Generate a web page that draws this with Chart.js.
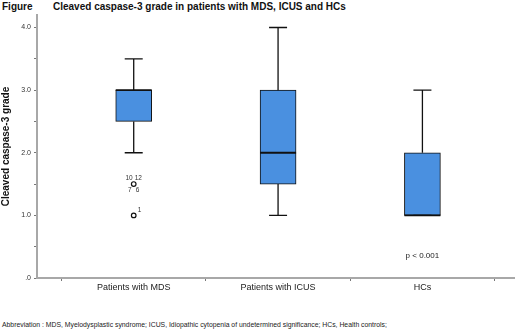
<!DOCTYPE html>
<html>
<head>
<meta charset="utf-8">
<title>Cleaved caspase-3 grade</title>
<script src="https://cdn.jsdelivr.net/npm/chart.js@4.4.1/dist/chart.umd.min.js"></script>
<style>
  body { margin:0; background:#fff; font-family:"Liberation Sans", Arial, sans-serif; }
  #wrap { position:relative; width:520px; height:335px; }
  #chartBox { position:absolute; left:0; top:0; width:520px; height:300px; }
  .ttl { position:absolute; top:1px; font-weight:bold; font-size:10px; color:#111; white-space:nowrap; }
  #foot { position:absolute; left:2px; top:321px; font-size:6.85px; color:#222; white-space:nowrap; }
</style>
</head>
<body>
<div id="wrap">
  <div class="ttl" style="left:2px">Figure</div>
  <div class="ttl" style="left:53px">Cleaved caspase-3 grade in patients with MDS, ICUS and HCs</div>
  <div id="chartBox"><canvas id="c"></canvas></div>
  <div id="foot">Abbreviation : MDS, Myelodysplastic syndrome; ICUS, Idiopathic cytopenia of undetermined significance; HCs, Health controls;</div>
</div>
<script>
// box plot values
var groups = ['Patients with MDS', 'Patients with ICUS', 'HCs'];
var whiskerLow = [2.0, 1.0, 1.0];
var q1 = [2.5, 1.5, 1.0];
var median = [3.0, 2.0, 1.0];
var q3 = [3.0, 3.0, 2.0];
var whiskerHigh = [3.5, 4.0, 3.0];
var outlierGroup = [0, 0];
var outlierValue = [1.5, 1.0];
var outlierIds = [['10', '12', '7', '6'], ['1']];
var yTicks = [0, 0.5, 1, 1.5, 2, 2.5, 3, 3.5, 4];
var xTicks = [-0.5, 0, 0.5, 1, 1.5, 2, 2.5];
var pText = 'p < 0.001';

var boxData = groups.map(function (g, i) { return { x: i, y: [q1[i], q3[i]] }; });
var outData = outlierValue.map(function (v, i) { return { x: outlierGroup[i], y: v }; });

// whiskers, medians, case labels, p value
var boxExtras = {
  id: 'boxExtras',
  afterDatasetsDraw: function (chart) {
    var ctx = chart.ctx, xs = chart.scales.x, ys = chart.scales.y;
    var bars = chart.getDatasetMeta(0).data;
    ctx.save();
    ctx.strokeStyle = '#111';
    groups.forEach(function (g, i) {
      var cx = xs.getPixelForValue(i);
      var w = bars[i].width;
      var cap = w * 0.25;
      ctx.lineWidth = 1.3;
      ctx.beginPath();
      ctx.moveTo(cx, ys.getPixelForValue(q3[i])); ctx.lineTo(cx, ys.getPixelForValue(whiskerHigh[i]));
      ctx.moveTo(cx - cap, ys.getPixelForValue(whiskerHigh[i])); ctx.lineTo(cx + cap, ys.getPixelForValue(whiskerHigh[i]));
      ctx.moveTo(cx, ys.getPixelForValue(q1[i])); ctx.lineTo(cx, ys.getPixelForValue(whiskerLow[i]));
      ctx.moveTo(cx - cap, ys.getPixelForValue(whiskerLow[i])); ctx.lineTo(cx + cap, ys.getPixelForValue(whiskerLow[i]));
      ctx.stroke();
      ctx.lineWidth = 1.8;
      ctx.beginPath();
      ctx.moveTo(cx - w / 2, ys.getPixelForValue(median[i])); ctx.lineTo(cx + w / 2, ys.getPixelForValue(median[i]));
      ctx.stroke();
    });
    ctx.fillStyle = '#333';
    ctx.font = '6.5px "Liberation Sans", Arial, sans-serif';
    ctx.textBaseline = 'middle';
    outlierValue.forEach(function (v, i) {
      var px = xs.getPixelForValue(outlierGroup[i]), py = ys.getPixelForValue(v);
      var ids = outlierIds[i];
      if (ids.length === 1) {
        ctx.textAlign = 'left';
        ctx.fillText(ids[0], px + 4, py - 5);
      } else {
        ctx.textAlign = 'right';
        ctx.fillText(ids[0], px - 1, py - 6);
        ctx.fillText(ids[2], px - 2, py + 6);
        ctx.textAlign = 'left';
        ctx.fillText(ids[1], px + 1, py - 6);
        ctx.fillText(ids[3], px + 2, py + 6);
      }
    });
    ctx.fillStyle = '#222';
    ctx.font = '8px "Liberation Sans", Arial, sans-serif';
    ctx.textAlign = 'center';
    ctx.fillText(pText, xs.getPixelForValue(2), ys.getPixelForValue(0.35));
    ctx.restore();
  }
};

new Chart(document.getElementById('c'), {
  data: {
    datasets: [
      {
        type: 'bar',
        data: boxData,
        backgroundColor: '#4a90e0',
        borderColor: '#111',
        borderWidth: 1,
        borderSkipped: false,
        barThickness: 36
      },
      {
        type: 'scatter',
        data: outData,
        pointStyle: 'circle',
        pointRadius: 2.3,
        pointBackgroundColor: '#fff',
        pointBorderColor: '#111',
        pointBorderWidth: 1.2
      }
    ]
  },
  options: {
    responsive: true,
    maintainAspectRatio: false,
    animation: false,
    layout: { padding: { top: 15, right: 5, bottom: 2, left: 0 } },
    plugins: { legend: { display: false }, tooltip: { enabled: false } },
    scales: {
      x: {
        type: 'linear',
        min: -0.67,
        max: 2.64,
        offset: false,
        afterBuildTicks: function (s) { s.ticks = xTicks.map(function (v) { return { value: v }; }); },
        afterFit: function (s) { s.height = 20; },
        ticks: {
          autoSkip: false,
          maxRotation: 0,
          padding: 1,
          color: '#222',
          font: { size: 9, family: '"Liberation Sans", Arial, sans-serif' },
          callback: function (v) { return Number.isInteger(v) ? groups[v] : ''; }
        },
        grid: {
          drawOnChartArea: false,
          offset: false,
          tickLength: 3,
          tickColor: function (c) {
            return (c.tick && Number.isInteger(c.tick.value)) ? 'rgba(0,0,0,0)' : '#777';
          }
        },
        border: { color: '#a8a8a8', width: 2 }
      },
      y: {
        min: 0,
        max: 4.2,
        afterBuildTicks: function (s) { s.ticks = yTicks.map(function (v) { return { value: v }; }); },
        afterFit: function (s) { s.width = 37; },
        ticks: {
          autoSkip: false,
          padding: 3,
          color: '#333',
          font: { size: 7, family: '"Liberation Sans", Arial, sans-serif' },
          callback: function (v) {
            if (!Number.isInteger(v)) return '';
            return v === 0 ? '.0' : v.toFixed(1);
          }
        },
        grid: { drawOnChartArea: false, tickLength: 3, tickColor: '#777' },
        border: { color: '#a8a8a8', width: 2 },
        title: {
          display: true,
          text: 'Cleaved caspase-3 grade',
          color: '#111',
          padding: { top: 0, bottom: 2 },
          font: { size: 10, weight: 'bold', family: '"Liberation Sans", Arial, sans-serif' }
        }
      }
    }
  },
  plugins: [boxExtras]
});
</script>
</body>
</html>
